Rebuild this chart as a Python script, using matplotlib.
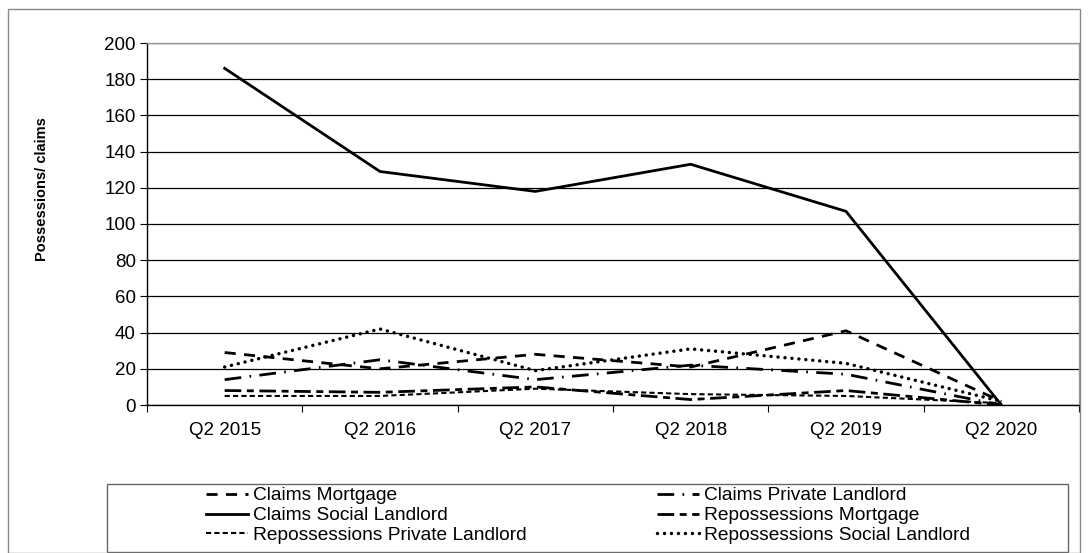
import matplotlib.pyplot as plt
from matplotlib.patches import Rectangle

plt.rcParams['font.family'] = ['Liberation Sans', 'DejaVu Sans']

quarters = ['Q2 2015', 'Q2 2016', 'Q2 2017', 'Q2 2018', 'Q2 2019', 'Q2 2020']

claims_mortgage = [29, 20, 28, 21, 41, 2]
claims_private = [14, 25, 14, 22, 17, 0]
claims_social = [186, 129, 118, 133, 107, 0]
repo_mortgage = [8, 7, 10, 3, 8, 0]
repo_private = [5, 5, 9, 6, 5, 1]
repo_social = [21, 42, 19, 31, 23, 2]

fig = plt.figure(figsize=(10.88, 5.53), dpi=100)
ax = fig.add_axes([147 / 1088, 1 - 405 / 553, 932 / 1088, 362 / 553])

x = list(range(len(quarters)))
lw = 2.0

# column-major order so legend rows match the original
ax.plot(x, claims_mortgage, color='black', lw=lw, dashes=(4, 3), label='Claims Mortgage')
ax.plot(x, claims_social, color='black', lw=lw, label='Claims Social Landlord')
ax.plot(x, repo_private, color='black', lw=1.5, dashes=(2.5, 1.5), label='Repossessions Private Landlord')
ax.plot(x, claims_private, color='black', lw=lw, dashes=(6, 3, 0.6, 3), label='Claims Private Landlord')
ax.plot(x, repo_mortgage, color='black', lw=lw, dashes=(6, 2, 2.5, 2), label='Repossessions Mortgage')
ax.plot(x, repo_social, color='black', lw=2.5, dashes=(0.01, 2), dash_capstyle='round',
        label='Repossessions Social Landlord')

ax.set_xlim(-0.5, len(quarters) - 0.5)
ax.set_ylim(0, 200)
ax.set_yticks(range(0, 201, 20))
ax.set_xticks(x)
ax.set_xticklabels(quarters)
ax.set_xticks([i + 0.5 for i in range(-1, len(quarters))], minor=True)
ax.tick_params(axis='x', which='major', length=0, pad=12, labelsize=13.5)
ax.tick_params(axis='x', which='minor', length=5, width=0.8, direction='out')
ax.tick_params(axis='y', length=5, width=0.8, labelsize=13.5, pad=3)

ax.grid(axis='y', color='black', lw=0.9)
ax.set_axisbelow(True)
ax.spines['left'].set_color('black')
ax.spines['bottom'].set_color('black')
ax.spines['top'].set_color('#999999')
ax.spines['right'].set_color('#999999')
for s in ax.spines.values():
    s.set_linewidth(1.0)

ax.set_ylabel('Possessions/ claims', fontsize=10.5, fontweight='bold')
ax.yaxis.set_label_coords(-98 / 932, (405 - 189) / 362)

# legend box drawn separately, entries centred inside it
fig.patches.append(Rectangle((107 / 1088, 1 - 552 / 553), 961 / 1088, 68 / 553,
                             transform=fig.transFigure, fill=False, edgecolor='#666666', lw=1.0))
leg = fig.legend(loc='upper center', bbox_to_anchor=(588 / 1088, 1 - 487 / 553),
                 ncol=2, fontsize=13.75, frameon=False,
                 handlelength=2.2, handletextpad=0.27, borderaxespad=0, labelspacing=0.13,
                 borderpad=0, columnspacing=6.8)

fig.patches.append(Rectangle((8 / 1088, 0), 1 - 16 / 1088, 1 - 9 / 553, transform=fig.transFigure,
                             fill=False, edgecolor='#888888', lw=1.0))

fig.savefig('out.png', dpi=100)
